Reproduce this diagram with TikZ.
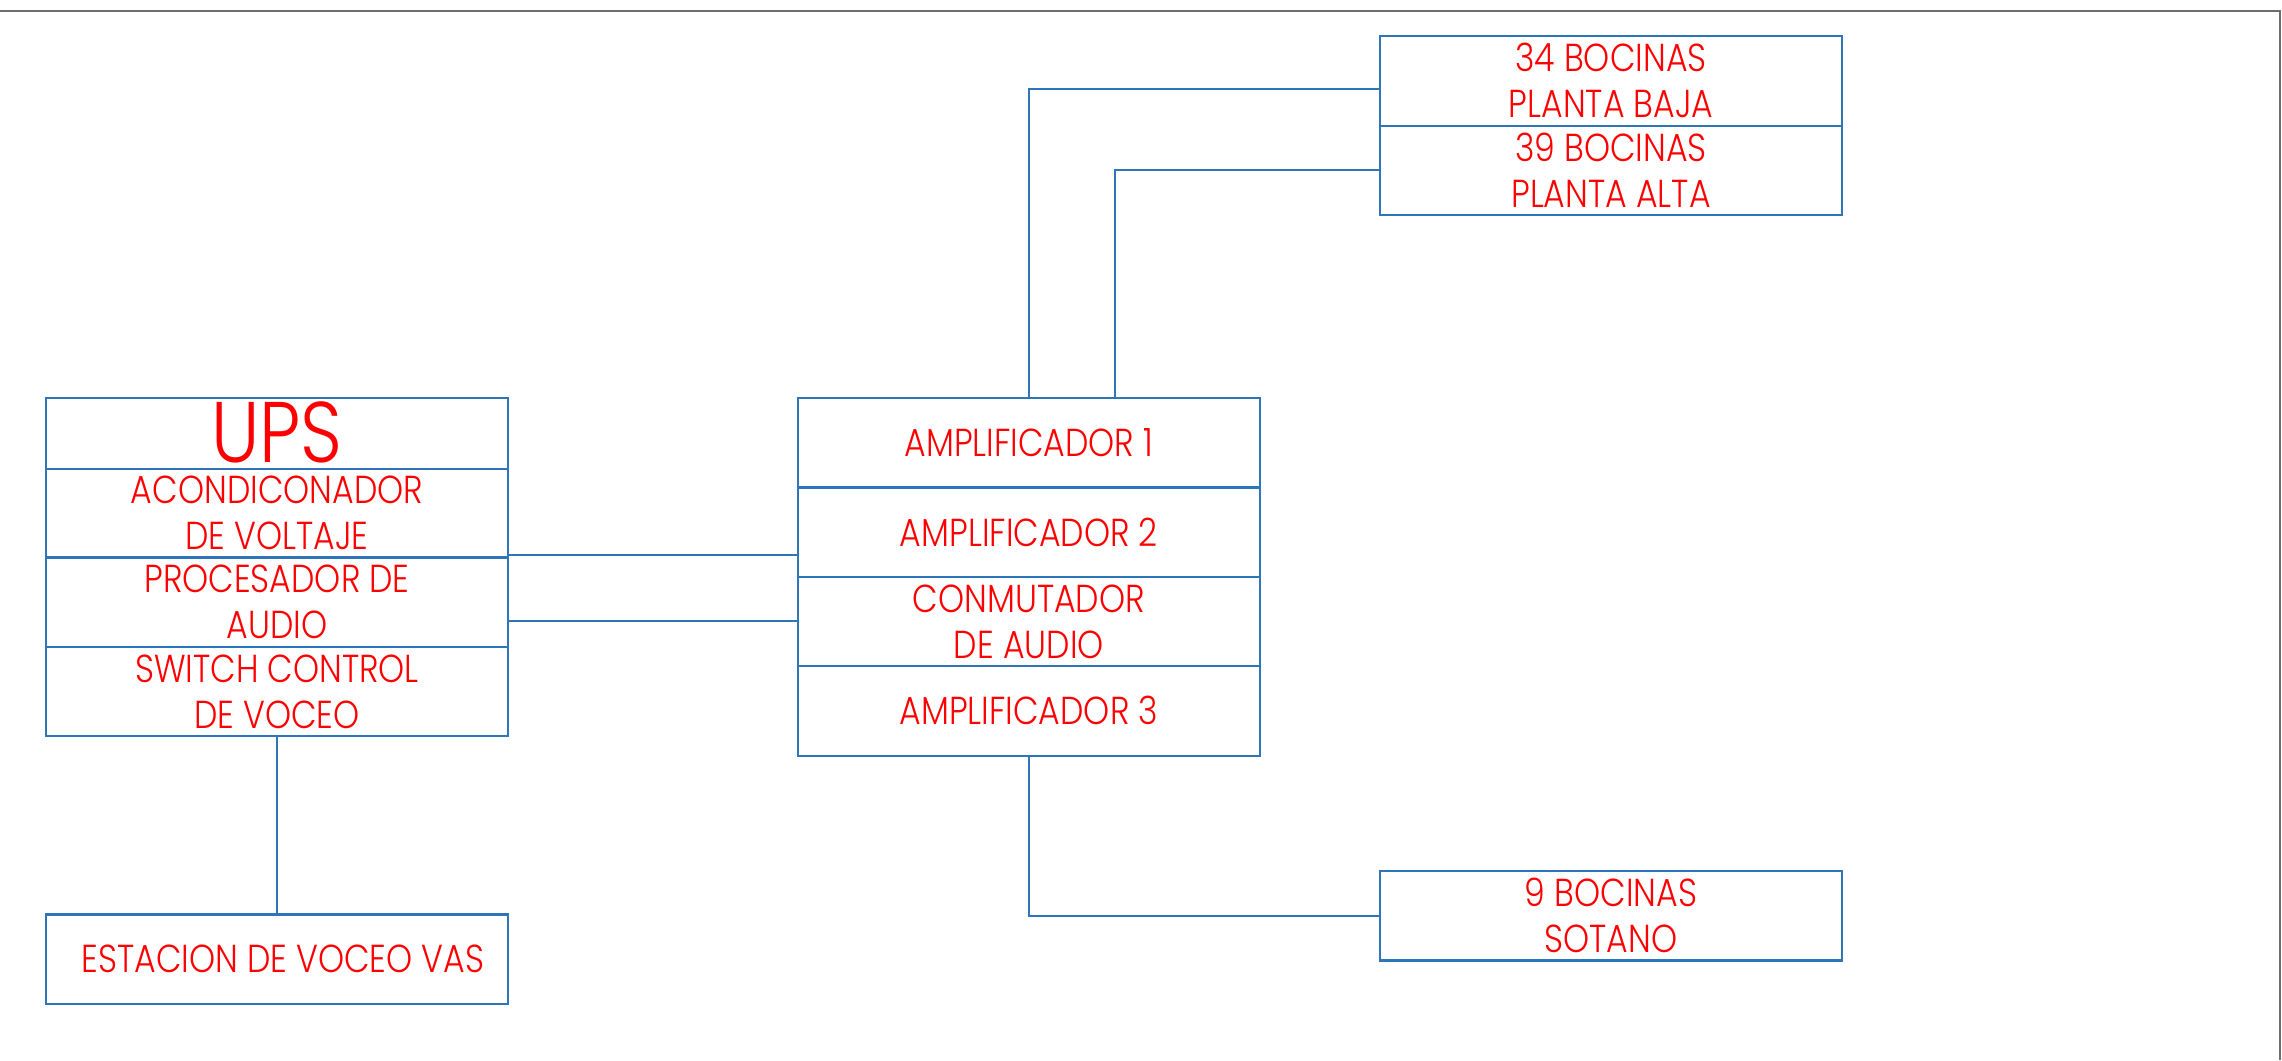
\documentclass[tikz,border=0pt]{standalone}
\usepackage{fontspec}
\IfFontExistsTF{Poppins Light}{%
  \newfontfamily\cadfont{Poppins Light}[FakeStretch=0.85]}{%
  \newfontfamily\cadfont{Poppins}[FakeStretch=0.85]}
\definecolor{boxblue}{RGB}{46,117,186}
\definecolor{framegray}{RGB}{110,110,110}
\definecolor{txtred}{RGB}{255,0,0}
\tikzset{
  cell/.style={draw=boxblue, line width=2.4pt, inner sep=0pt, align=center,
    text=txtred, font=\cadfont\fontsize{39}{46}\selectfont,
    minimum width=462pt},
  wire/.style={draw=boxblue, line width=2pt},
  frameline/.style={draw=framegray, line width=2pt}
}
\begin{document}
\begin{tikzpicture}[x=1pt,y=-1pt]
\useasboundingbox (0,0) rectangle (2282,1060);
% frame
\coordinate (fl) at (0,11);
\coordinate (fr) at (2280,11);
\coordinate (fb) at (2280,1060);
\draw[frameline] (fl) -- (fr) -- (fb);
% UPS stack
\node[cell, minimum height=71pt, font=\cadfont\fontsize{86}{90}\selectfont] (ups) at (277,433.2) {\raisebox{0pt}[60pt][2pt]{UPS}};
\node[cell, minimum height=88.6pt] (acon) at (277,513) {ACONDICONADOR\\DE VOLTAJE};
\node[cell, minimum height=89.4pt] (proc) at (277,602) {PROCESADOR DE\\AUDIO};
\node[cell, minimum height=89.3pt] (sw) at (277,691.35) {SWITCH CONTROL\\DE VOCEO};
\node[cell, minimum height=89.7pt] (est) at (277,959.15) {\hspace*{12pt}ESTACION DE VOCEO VAS};
% amplifier stack
\node[cell, minimum height=89.6pt] (amp1) at (1028.85,442.5) {AMPLIFICADOR 1};
\node[cell, minimum height=89.4pt] (amp2) at (1028.85,532) {AMPLIFICADOR 2};
\node[cell, minimum height=89.3pt] (conm) at (1028.85,621.35) {CONMUTADOR\\DE AUDIO};
\node[cell, minimum height=89.7pt] (amp3) at (1028.85,710.85) {AMPLIFICADOR 3};
% speaker boxes
\node[cell, minimum height=90pt] (b34) at (1611,80.7) {34 BOCINAS\\PLANTA BAJA};
\node[cell, minimum height=89.3pt] (b39) at (1611,170.35) {39 BOCINAS\\PLANTA ALTA};
\node[cell, minimum height=89.3pt] (sot) at (1611,915.65) {9 BOCINAS\\SOTANO};
% connectors
\draw[wire] ([yshift=1.5pt]proc.north east) -- ([yshift=1.5pt]proc.north east -| amp2.west);
\draw[wire] (conm.west) -- (conm.west -| proc.east);
\draw[wire] (sw.south) -- (est.north);
\draw[wire] (amp1.north) |- ([yshift=-8.3pt]b34.west);
\draw[wire] ([xshift=86pt]amp1.north) |- (b39.west);
\draw[wire] (amp3.south) |- (sot.west);
\end{tikzpicture}
\end{document}
